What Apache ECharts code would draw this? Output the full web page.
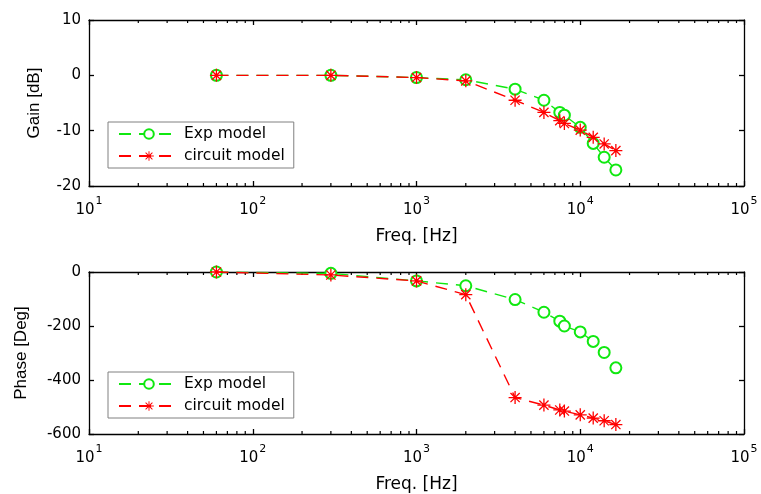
<!DOCTYPE html>
<html>
<head>
<meta charset="utf-8">
<script src="https://cdn.jsdelivr.net/npm/echarts@6/dist/echarts.min.js"></script>
<style>html,body{margin:0;padding:0;background:#fff;}#c{width:761px;height:494px;}</style>
</head>
<body>
<div id="c"></div>
<script>
var freqs = [60, 300, 1000, 2000, 4000, 6000, 7500, 8000, 10000, 12000, 14000, 16500];
var gainExp = [0, 0, -0.4, -0.8, -2.5, -4.5, -6.7, -7.2, -9.4, -12.3, -14.8, -17.1];
var gainCircuit = [0, 0, -0.4, -1.0, -4.5, -6.7, -8.2, -8.7, -9.9, -11.2, -12.4, -13.6];
var phaseExp = [0, -5, -33, -51, -102, -149, -182, -200, -222, -257, -298, -355];
var phaseCircuit = [0, -11, -33, -84, -465, -493, -511, -515, -529, -541, -551, -565];
var seriesNames = ['Exp model', 'circuit model'];
var minorTickFreqs = [];
[10, 100, 1000, 10000].forEach(function (d) { for (var k = 2; k <= 9; k++) minorTickFreqs.push(k * d); });

var FONT_H = 'DejaVu Sans, sans-serif';
var FONT_V = 'Liberation Sans, Arial, sans-serif';
var GREEN = '#10e810', RED = '#ff0000';
var STAR = 'path://M0 9L20 9L20 11L0 11Z M9 0L11 0L11 20L9 20Z M3.6 2.2L17.8 16.4L16.4 17.8L2.2 3.6Z M16.4 2.2L17.8 3.6L3.6 17.8L2.2 16.4Z';

function zip(xs, ys) { return xs.map(function (x, i) { return [x, ys[i]]; }); }

function xAx(gi, main) {
  return {
    type: 'log', logBase: 10, min: 10, max: 100000, gridIndex: gi,
    position: main ? 'bottom' : 'top',
    name: main ? 'Freq. [Hz]' : '', nameLocation: 'middle', nameGap: 42,
    nameTextStyle: { fontFamily: FONT_H, fontSize: 17, color: '#000' },
    axisLine: { show: true, onZero: false, lineStyle: { color: '#000', width: 1.3 } },
    axisTick: { show: true, inside: true, length: 5, lineStyle: { color: '#000', width: 1.3 } },
    splitLine: { show: false },
    axisLabel: main ? {
      show: true, margin: 10, color: '#000',
      formatter: function (v) { return '{b|10}{s|' + Math.round(Math.log10(v)) + '}'; },
      rich: {
        b: { fontFamily: FONT_H, fontSize: 15, color: '#000', verticalAlign: 'bottom', lineHeight: 22 },
        s: { fontFamily: FONT_H, fontSize: 11, color: '#000', verticalAlign: 'top', lineHeight: 22, padding: [0, 0, 0, 1] }
      }
    } : { show: false }
  };
}
function yAx(gi, main, name, min, max, interval, gap) {
  return {
    type: 'value', gridIndex: gi, min: min, max: max, interval: interval,
    position: main ? 'left' : 'right',
    name: main ? name : '', nameLocation: 'middle', nameGap: gap,
    nameTextStyle: { fontFamily: FONT_V, fontSize: 17, color: '#000' },
    axisLine: { show: true, onZero: false, lineStyle: { color: '#000', width: 1.3 } },
    axisTick: { show: true, inside: true, length: 5, lineStyle: { color: '#000', width: 1.3 } },
    splitLine: { show: false },
    axisLabel: main ? { show: true, margin: 8, fontFamily: FONT_H, fontSize: 15, color: '#000' } : { show: false }
  };
}
function lineSeries(name, data, xi, yi, isExp) {
  return {
    name: name, type: 'line', xAxisIndex: xi, yAxisIndex: yi, data: data,
    symbol: isExp ? 'emptyCircle' : STAR,
    symbolSize: isExp ? 11 : 13,
    showAllSymbol: true,
    itemStyle: isExp ? { color: GREEN, borderColor: GREEN, borderWidth: 1.4 } : { color: RED },
    lineStyle: { color: isExp ? GREEN : RED, width: 1.4, type: [12, 8] },
    z: isExp ? 3 : 4, animation: false
  };
}
function minorTicks(xi, yi, ymin, ymax) {
  return {
    type: 'custom', xAxisIndex: xi, yAxisIndex: yi, silent: true, clip: false,
    data: minorTickFreqs.map(function (f) { return [f]; }),
    renderItem: function (params, api) {
      var f = api.value(0);
      var b = api.coord([f, ymin]);
      var t = api.coord([f, ymax]);
      var st = { stroke: '#000', lineWidth: 1.2 };
      return { type: 'group', children: [
        { type: 'line', shape: { x1: b[0], y1: b[1], x2: b[0], y2: b[1] - 3 }, style: st },
        { type: 'line', shape: { x1: t[0], y1: t[1], x2: t[0], y2: t[1] + 3 }, style: st }
      ] };
    },
    animation: false
  };
}
function legendAt(top) {
  return {
    data: seriesNames, orient: 'vertical', left: 108, top: top,
    backgroundColor: '#fff', borderColor: '#808080', borderWidth: 1,
    padding: [4, 9, 4, 10], itemWidth: 60, itemHeight: 12, itemGap: 6,
    textStyle: { fontFamily: FONT_H, fontSize: 15.5, color: '#000' },
    selectedMode: false
  };
}

var chart = echarts.init(document.getElementById('c'), null, { renderer: 'canvas' });
chart.setOption({
  animation: false,
  backgroundColor: '#fff',
  grid: [
    { left: 89, right: 17, top: 20, height: 166, show: false },
    { left: 89, right: 17, top: 272, height: 164, show: false }
  ],
  xAxis: [xAx(0, true), xAx(1, true), xAx(0, false), xAx(1, false)],
  yAxis: [
    yAx(0, true, 'Gain [dB]', -20, 10, 10, 46),
    yAx(1, true, 'Phase [Deg]', -600, 0, 200, 59),
    yAx(0, false, '', -20, 10, 10, 0),
    yAx(1, false, '', -600, 0, 200, 0)
  ],
  legend: [legendAt(122), legendAt(372)],
  series: [
    lineSeries(seriesNames[0], zip(freqs, gainExp), 0, 0, true),
    lineSeries(seriesNames[1], zip(freqs, gainCircuit), 0, 0, false),
    lineSeries(seriesNames[0], zip(freqs, phaseExp), 1, 1, true),
    lineSeries(seriesNames[1], zip(freqs, phaseCircuit), 1, 1, false),
    minorTicks(0, 0, -20, 10),
    minorTicks(1, 1, -600, 0)
  ]
});
</script>
</body>
</html>
